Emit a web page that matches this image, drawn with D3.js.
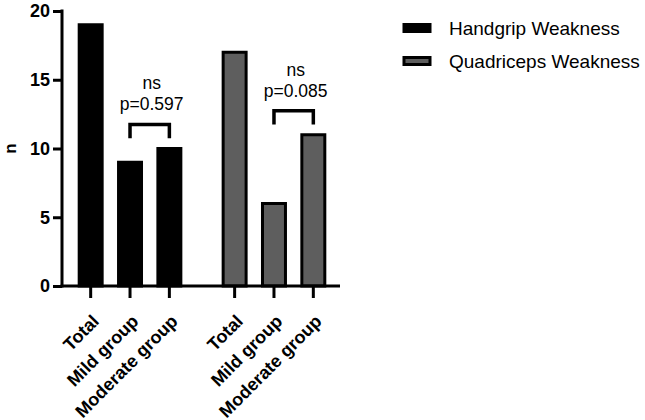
<!DOCTYPE html>
<meta charset="utf-8">
<style>
    body {
        margin: 0;
        background: #fff;
    }
    svg {
        font-family: "Liberation Sans", Arial, sans-serif;
    }
    .axis path, .axis line {
        stroke: #000;
        stroke-width: 3;
    }
    .axis text {
        font-size: 18px;
        font-weight: bold;
        fill: #000;
    }
</style>
<svg width="645" height="420"></svg>
<script src="https://d3js.org/d3.v7.min.js"></script>
<script>
    var groups = ["Handgrip Weakness", "Quadriceps Weakness"];
    var categories = ["Total", "Mild group", "Moderate group"];
    var handgrip = [19, 9, 10];
    var quadriceps = [17, 6, 11];
    var significance = ["ns", "ns"];
    var pValues = ["p=0.597", "p=0.085"];
    var yTicks = [0, 5, 10, 15, 20];

    var colors = ["#000000", "#5e5e5e"];
    var series = [handgrip, quadriceps];

    var svg = d3.select("svg"),
        axisLeft = 62,
        axisRight = 340,
        axisBottom = 286,
        axisTop = 11;

    var y = d3.scaleLinear()
        .domain([0, 20])
        .range([axisBottom, axisTop]);

    var x0 = d3.scaleBand()
        .domain(groups)
        .range([71, 333])
        .paddingInner(0.18);

    var x1 = d3.scaleBand()
        .domain(categories)
        .range([0, x0.bandwidth()])
        .paddingInner(0.34)
        .paddingOuter(0.17);

    function center(g, c) {
        return x0(g) + x1(c) + x1.bandwidth() / 2;
    }

    // bars
    groups.forEach(function (g, gi) {
        svg.append("g")
            .selectAll("rect")
            .data(series[gi])
            .enter().append("rect")
            .attr("x", function (d, i) { return x0(g) + x1(categories[i]) + 1.5; })
            .attr("width", x1.bandwidth() - 3)
            .attr("y", function (d) { return y(d); })
            .attr("height", function (d) { return axisBottom - y(d); })
            .attr("fill", colors[gi])
            .attr("stroke", "#000")
            .attr("stroke-width", 3);
    });

    // y axis
    svg.append("g")
        .attr("class", "axis")
        .attr("transform", "translate(" + axisLeft + ",0)")
        .call(d3.axisLeft(y).tickValues(yTicks).tickSize(9).tickSizeOuter(0).tickPadding(3))
        .call(function (g) {
            g.select(".domain").attr("d", "M0," + (axisTop - 1.5) + "V" + (axisBottom + 1.5));
        });

    svg.append("text")
        .attr("transform", "translate(16," + y(10) + ") rotate(-90)")
        .attr("text-anchor", "middle")
        .style("font-size", "17px")
        .style("font-weight", "bold")
        .text("n");

    // x axis
    var xa = svg.append("g").attr("class", "axis");
    xa.append("path")
        .attr("d", "M" + (axisLeft - 1.5) + "," + axisBottom + "H" + axisRight);

    groups.forEach(function (g) {
        categories.forEach(function (c) {
            var cx = center(g, c);
            xa.append("line")
                .attr("x1", cx).attr("x2", cx)
                .attr("y1", axisBottom).attr("y2", axisBottom + 12);
            xa.append("text")
                .attr("transform", "translate(" + (cx + 5) + "," + (axisBottom + 32) + ") rotate(-45)")
                .attr("text-anchor", "end")
                .attr("dy", "0.35em")
                .text(c);
        });
    });

    // significance brackets
    groups.forEach(function (g, gi) {
        var vals = series[gi];
        var a = center(g, categories[1]),
            b = center(g, categories[2]),
            top = Math.max(vals[1], vals[2]);
        var yLeg = y(top + 0.75),
            yTop = y(top + 1.75);
        svg.append("path")
            .attr("d", "M" + a + "," + yLeg + "V" + yTop + "H" + b + "V" + yLeg)
            .attr("fill", "none")
            .attr("stroke", "#000")
            .attr("stroke-width", 3.5);
        var mid = (a + b) / 2 + 2;
        svg.append("text")
            .attr("x", mid)
            .attr("y", yTop - 14)
            .attr("text-anchor", "middle")
            .style("font-size", "17.5px")
            .text(pValues[gi]);
        svg.append("text")
            .attr("x", mid)
            .attr("y", yTop - 35)
            .attr("text-anchor", "middle")
            .style("font-size", "17.5px")
            .text(significance[gi]);
    });

    // legend
    var legend = svg.append("g")
        .selectAll("g")
        .data(groups)
        .enter().append("g")
        .attr("transform", function (d, i) { return "translate(0," + (i * 33) + ")"; });

    legend.append("rect")
        .attr("x", 404)
        .attr("y", 24.5)
        .attr("width", 26)
        .attr("height", 7)
        .attr("fill", function (d, i) { return colors[i]; })
        .attr("stroke", "#000")
        .attr("stroke-width", 3);

    legend.append("text")
        .attr("x", 449)
        .attr("y", 35)
        .style("font-size", "19px")
        .text(function (d) { return d; });
</script>
